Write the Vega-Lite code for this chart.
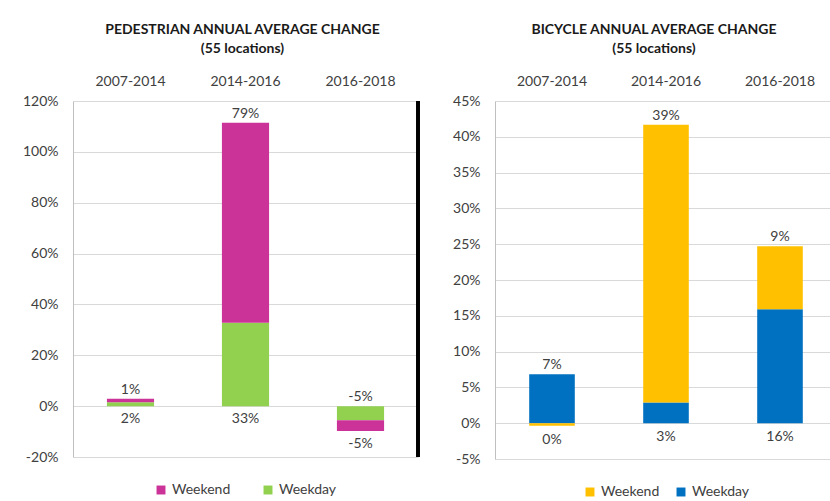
{
  "$schema": "https://vega.github.io/schema/vega-lite/v6.json",
  "padding": {"top": 23, "left": 22, "right": 0, "bottom": 0},
  "background": "white",
  "datasets": {
    "ped": [
      {"period": "2007-2014", "type": "Weekday", "value": 1.5},
      {"period": "2007-2014", "type": "Weekend", "value": 1.4},
      {"period": "2014-2016", "type": "Weekday", "value": 32.8},
      {"period": "2014-2016", "type": "Weekend", "value": 78.6},
      {"period": "2016-2018", "type": "Weekday", "value": -5.5},
      {"period": "2016-2018", "type": "Weekend", "value": -4.3}
    ],
    "pedLabels": [
      {"period": "2007-2014", "upper": "1%", "lower": "2%"},
      {"period": "2014-2016", "upper": "79%", "lower": "33%"},
      {"period": "2016-2018", "upper": "-5%", "lower": "-5%"}
    ],
    "bike": [
      {"period": "2007-2014", "type": "Weekday", "value": 6.85},
      {"period": "2007-2014", "type": "Weekend", "value": -0.35},
      {"period": "2014-2016", "type": "Weekday", "value": 2.9},
      {"period": "2014-2016", "type": "Weekend", "value": 38.8},
      {"period": "2016-2018", "type": "Weekday", "value": 15.9},
      {"period": "2016-2018", "type": "Weekend", "value": 8.8}
    ],
    "bikeLabels": [
      {"period": "2007-2014", "upper": "7%", "lower": "0%"},
      {"period": "2014-2016", "upper": "39%", "lower": "3%"},
      {"period": "2016-2018", "upper": "9%", "lower": "16%"}
    ]
  },
  "hconcat": [
    {
      "width": 345,
      "height": 356,
      "title": {"text": ["PEDESTRIAN ANNUAL AVERAGE CHANGE", "(55 locations)"], "dx": -3},
      "data": {"name": "ped"},
      "encoding": {
        "x": {"field": "period", "type": "nominal", "title": null,
              "scale": {"paddingInner": 0, "paddingOuter": 0},
              "axis": {"orient": "top"}}
      },
      "layer": [
        {
          "mark": {"type": "bar", "width": {"band": 0.41}},
          "encoding": {
            "y": {"field": "value", "type": "quantitative", "stack": "zero", "title": null,
                  "scale": {"domain": [-20, 120], "nice": false},
                  "axis": {"values": [-20, 0, 20, 40, 60, 80, 100, 120], "labelExpr": "datum.value + '%'", "labelOverlap": false}},
            "color": {"field": "type", "type": "nominal", "title": null,
                      "scale": {"domain": ["Weekend", "Weekday"], "range": ["#CC3399", "#92D050"]},
                      "legend": {"orient": "bottom", "direction": "horizontal", "columnPadding": 30}},
            "order": {"field": "type", "sort": "ascending"}
          }
        },
        {
          "transform": [
            {"stack": "value", "groupby": ["period"], "as": ["v0", "v1"]},
            {"aggregate": [
              {"op": "max", "field": "v0", "as": "hi0"},
              {"op": "max", "field": "v1", "as": "hi1"},
              {"op": "min", "field": "v0", "as": "lo0"},
              {"op": "min", "field": "v1", "as": "lo1"}
            ], "groupby": ["period"]},
            {"calculate": "max(datum.hi0, datum.hi1, 0)", "as": "top"},
            {"calculate": "min(datum.lo0, datum.lo1, 0)", "as": "bottom"},
            {"lookup": "period", "from": {"data": {"name": "pedLabels"}, "key": "period", "fields": ["upper", "lower"]}}
          ],
          "layer": [
            {
              "mark": {"type": "text", "dy": -9, "fontSize": 14, "color": "#404040"},
              "encoding": {"y": {"field": "top", "type": "quantitative", "title": null,
                  "axis": {"values": [-20, 0, 20, 40, 60, 80, 100, 120], "labelExpr": "datum.value + '%'", "labelOverlap": false}},
                "text": {"field": "upper"}}
            },
            {
              "mark": {"type": "text", "dy": 13, "fontSize": 14, "color": "#404040"},
              "encoding": {"y": {"field": "bottom", "type": "quantitative", "title": null,
                  "axis": {"values": [-20, 0, 20, 40, 60, 80, 100, 120], "labelExpr": "datum.value + '%'", "labelOverlap": false}},
                "text": {"field": "lower"}}
            }
          ]
        },
        {
          "mark": {"type": "rule", "color": "black", "strokeWidth": 3},
          "encoding": {"x": {"value": "width"}}
        }
      ]
    },
    {
      "width": 342,
      "height": 358,
      "title": {"text": ["BICYCLE ANNUAL AVERAGE CHANGE", "(55 locations)"], "dx": -12},
      "data": {"name": "bike"},
      "encoding": {
        "x": {"field": "period", "type": "nominal", "title": null,
              "scale": {"paddingInner": 0, "paddingOuter": 0},
              "axis": {"orient": "top"}}
      },
      "layer": [
        {
          "mark": {"type": "bar", "width": {"band": 0.4}},
          "encoding": {
            "y": {"field": "value", "type": "quantitative", "stack": "zero", "title": null,
                  "scale": {"domain": [-5, 45], "nice": false},
                  "axis": {"values": [-5, 0, 5, 10, 15, 20, 25, 30, 35, 40, 45], "labelExpr": "datum.value + '%'", "labelOverlap": false}},
            "color": {"field": "type", "type": "nominal", "title": null,
                      "scale": {"domain": ["Weekend", "Weekday"], "range": ["#FFC000", "#0070C0"]},
                      "legend": {"orient": "bottom", "direction": "horizontal", "columnPadding": 14}},
            "order": {"field": "type", "sort": "ascending"}
          }
        },
        {
          "transform": [
            {"stack": "value", "groupby": ["period"], "as": ["v0", "v1"]},
            {"aggregate": [
              {"op": "max", "field": "v0", "as": "hi0"},
              {"op": "max", "field": "v1", "as": "hi1"},
              {"op": "min", "field": "v0", "as": "lo0"},
              {"op": "min", "field": "v1", "as": "lo1"}
            ], "groupby": ["period"]},
            {"calculate": "max(datum.hi0, datum.hi1, 0)", "as": "top"},
            {"calculate": "min(datum.lo0, datum.lo1, 0)", "as": "bottom"},
            {"lookup": "period", "from": {"data": {"name": "bikeLabels"}, "key": "period", "fields": ["upper", "lower"]}}
          ],
          "layer": [
            {
              "mark": {"type": "text", "dy": -9, "fontSize": 14, "color": "#404040"},
              "encoding": {"y": {"field": "top", "type": "quantitative", "title": null,
                  "axis": {"values": [-5, 0, 5, 10, 15, 20, 25, 30, 35, 40, 45], "labelExpr": "datum.value + '%'", "labelOverlap": false}},
                "text": {"field": "upper"}}
            },
            {
              "mark": {"type": "text", "dy": 14, "fontSize": 14, "color": "#404040"},
              "encoding": {"y": {"field": "bottom", "type": "quantitative", "title": null,
                  "axis": {"values": [-5, 0, 5, 10, 15, 20, 25, 30, 35, 40, 45], "labelExpr": "datum.value + '%'", "labelOverlap": false}},
                "text": {"field": "lower"}}
            }
          ]
        }
      ]
    }
  ],
  "spacing": 77,
  "bounds": "flush",
  "resolve": {"scale": {"color": "independent"}, "legend": {"color": "independent"}},
  "config": {
    "font": "Lato",
    "view": {"stroke": null},
    "title": {"fontSize": 14, "fontWeight": "bold", "color": "#1a1a1a", "lineHeight": 19, "anchor": "middle", "offset": 18},
    "axisX": {"labelFontSize": 14, "labelColor": "#404040", "labelAngle": 0, "ticks": false, "tickSize": 0, "domain": false, "grid": false, "labelPadding": 13},
    "axisY": {"labelFontSize": 14, "labelColor": "#404040", "ticks": false, "tickSize": 0, "domain": true, "domainColor": "#BFBFBF", "grid": true, "gridColor": "#D9D9D9", "labelPadding": 15, "labelOverlap": false},
    "legend": {"labelFontSize": 14, "labelColor": "#404040", "symbolType": "square", "symbolSize": 80, "symbolStrokeWidth": 0, "offset": 26, "layout": {"bottom": {"anchor": "middle"}}}
  }
}
